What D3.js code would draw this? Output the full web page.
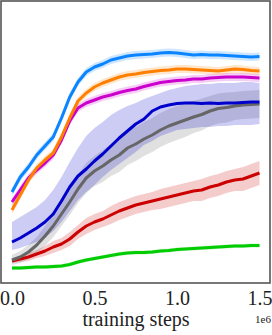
<!DOCTYPE html>
<html>
<head>
<meta charset="utf-8">
<script src="https://cdn.jsdelivr.net/npm/d3@7"></script>
<style>
  body { margin: 0; background: #fff; }
  svg { display: block; }
  text { font-family: "Liberation Serif", "DejaVu Serif", serif; fill: #222; }
</style>
</head>
<body>
<svg id="chart"></svg>
<script>
// training steps, every 0.05e6
const steps = d3.range(0, 31).map(i => i * 50000);
const xTicks = [0, 500000, 1000000, 1500000];

// episode return per method (mean curves)
const azureMean = [760, 910, 1010, 1130, 1220, 1310, 1500, 1710, 1860, 1960, 2010, 2040, 2080, 2100, 2120, 2130,
    2135, 2140, 2150, 2155, 2150, 2140, 2130, 2135, 2130, 2130, 2125, 2120, 2115, 2110, 2115];
const orangeMean = [580, 730, 880, 1000, 1080, 1150, 1310, 1500, 1670, 1750, 1810, 1850, 1880, 1910, 1930, 1940,
    1955, 1965, 1975, 1980, 1990, 1990, 1985, 1980, 1975, 1970, 1980, 1990, 1985, 1975, 1970];
const magentaMean = [660, 780, 900, 980, 1050, 1130, 1280, 1470, 1600, 1650, 1680, 1710, 1730, 1755, 1775, 1790,
    1815, 1835, 1855, 1865, 1875, 1880, 1890, 1890, 1900, 1905, 1910, 1910, 1910, 1905, 1900];
const navyMean = [260, 300, 350, 400, 460, 540, 670, 810, 920, 990, 1070, 1140, 1220, 1300, 1370, 1440,
    1490, 1570, 1610, 1630, 1645, 1650, 1650, 1645, 1650, 1645, 1650, 1650, 1655, 1660, 1660];
const grayMean = [80, 110, 160, 230, 320, 420, 540, 660, 790, 900, 970, 1020, 1080, 1130, 1200, 1240,
    1290, 1330, 1380, 1420, 1450, 1480, 1510, 1535, 1570, 1595, 1605, 1620, 1630, 1635, 1640];
const redMean = [70, 90, 110, 140, 170, 210, 240, 290, 360, 420, 460, 490, 530, 570, 600, 630,
    650, 670, 690, 710, 730, 750, 770, 780, 810, 830, 860, 880, 890, 920, 950];
const greenMean = [0, 0, 5, 10, 10, 15, 20, 35, 60, 80, 95, 110, 125, 140, 150, 155,
    155, 160, 170, 175, 185, 190, 195, 200, 205, 210, 215, 220, 220, 225, 225];

// shaded spread around each mean
const navyUpper = [460, 510, 560, 610, 680, 780, 910, 1060, 1200, 1320, 1400, 1460, 1530, 1580, 1620, 1650,
    1690, 1720, 1750, 1780, 1800, 1820, 1830, 1840, 1840, 1850, 1850, 1850, 1860, 1860, 1850];
const navyLower = [180, 200, 230, 260, 300, 370, 460, 570, 680, 760, 830, 910, 980, 1040, 1100, 1160,
    1230, 1270, 1320, 1350, 1380, 1390, 1400, 1410, 1410, 1420, 1420, 1430, 1430, 1430, 1440];
const graySpread = [50, 60, 70, 80, 100, 110, 120, 130, 140, 150, 150, 160, 160, 170, 170, 170,
    170, 170, 170, 170, 170, 170, 160, 160, 150, 150, 150, 140, 140, 140, 140];
const redSpread = [20, 30, 40, 40, 50, 60, 60, 70, 70, 80, 80, 80, 90, 90, 90, 90,
    90, 90, 100, 100, 100, 100, 100, 110, 110, 110, 110, 110, 120, 120, 120];
const topSpread = 40;
const greenSpread = 20;

const series = [
    { color: "#00cc00", mean: greenMean, lo: greenMean.map(v => v - greenSpread), hi: greenMean.map(v => v + greenSpread) },
    { color: "#cc0000", mean: redMean, lo: redMean.map((v, i) => v - redSpread[i]), hi: redMean.map((v, i) => v + redSpread[i]) },
    { color: "#666666", mean: grayMean, lo: grayMean.map((v, i) => v - graySpread[i]), hi: grayMean.map((v, i) => v + graySpread[i]) },
    { color: "#0000cc", mean: navyMean, lo: navyLower, hi: navyUpper },
    { color: "#cc00cc", mean: magentaMean, lo: magentaMean.map(v => v - topSpread), hi: magentaMean.map(v => v + topSpread) },
    { color: "#ff8000", mean: orangeMean, lo: orangeMean.map(v => v - topSpread), hi: orangeMean.map(v => v + topSpread) },
    { color: "#0a84ff", mean: azureMean, lo: azureMean.map(v => v - topSpread), hi: azureMean.map(v => v + topSpread) }
];

const width = 272, height = 335;
const plot = { left: 1, right: 270, top: 1, bottom: 283 };

const svg = d3.select("#chart").attr("width", width).attr("height", height);

const xScale = d3.scaleLinear().domain([0, 1500000]).range([12, 259.5]);
const yScale = d3.scaleLinear().domain([-150, 2680]).range([plot.bottom, plot.top - 1]);

const area = d3.area()
    .x((d, i) => xScale(steps[i]))
    .y0(d => yScale(d[0]))
    .y1(d => yScale(d[1]));

const line = d3.line()
    .x((d, i) => xScale(steps[i]))
    .y(d => yScale(d));

series.forEach(s => {
    svg.append("path")
        .datum(s.lo.map((v, i) => [v, s.hi[i]]))
        .attr("d", area)
        .attr("fill", s.color)
        .attr("fill-opacity", 0.2);
});

series.forEach(s => {
    svg.append("path")
        .datum(s.mean)
        .attr("d", line)
        .attr("fill", "none")
        .attr("stroke", s.color)
        .attr("stroke-width", 3)
        .attr("stroke-linejoin", "round");
});

// frame
svg.append("rect")
    .attr("x", plot.left)
    .attr("y", plot.top)
    .attr("width", plot.right - plot.left)
    .attr("height", plot.bottom - plot.top)
    .attr("fill", "none")
    .attr("stroke", "#555")
    .attr("stroke-width", 1.6);

const xAxis = svg.append("g")
    .attr("transform", `translate(0,${plot.bottom})`)
    .call(d3.axisBottom(xScale)
        .tickValues(xTicks)
        .tickSize(0)
        .tickPadding(8)
        .tickFormat(d => (d / 1e6).toFixed(1)));
xAxis.select(".domain").remove();
xAxis.selectAll("text")
    .attr("font-size", "20px")
    .attr("font-family", "Liberation Serif, DejaVu Serif, serif")
    .attr("fill", "#222");

svg.append("text")
    .attr("x", 136)
    .attr("y", 326)
    .attr("text-anchor", "middle")
    .attr("font-size", "20px")
    .text("training steps");

svg.append("text")
    .attr("x", 271)
    .attr("y", 323)
    .attr("text-anchor", "end")
    .attr("font-size", "11px")
    .text("1e6");
</script>
</body>
</html>
